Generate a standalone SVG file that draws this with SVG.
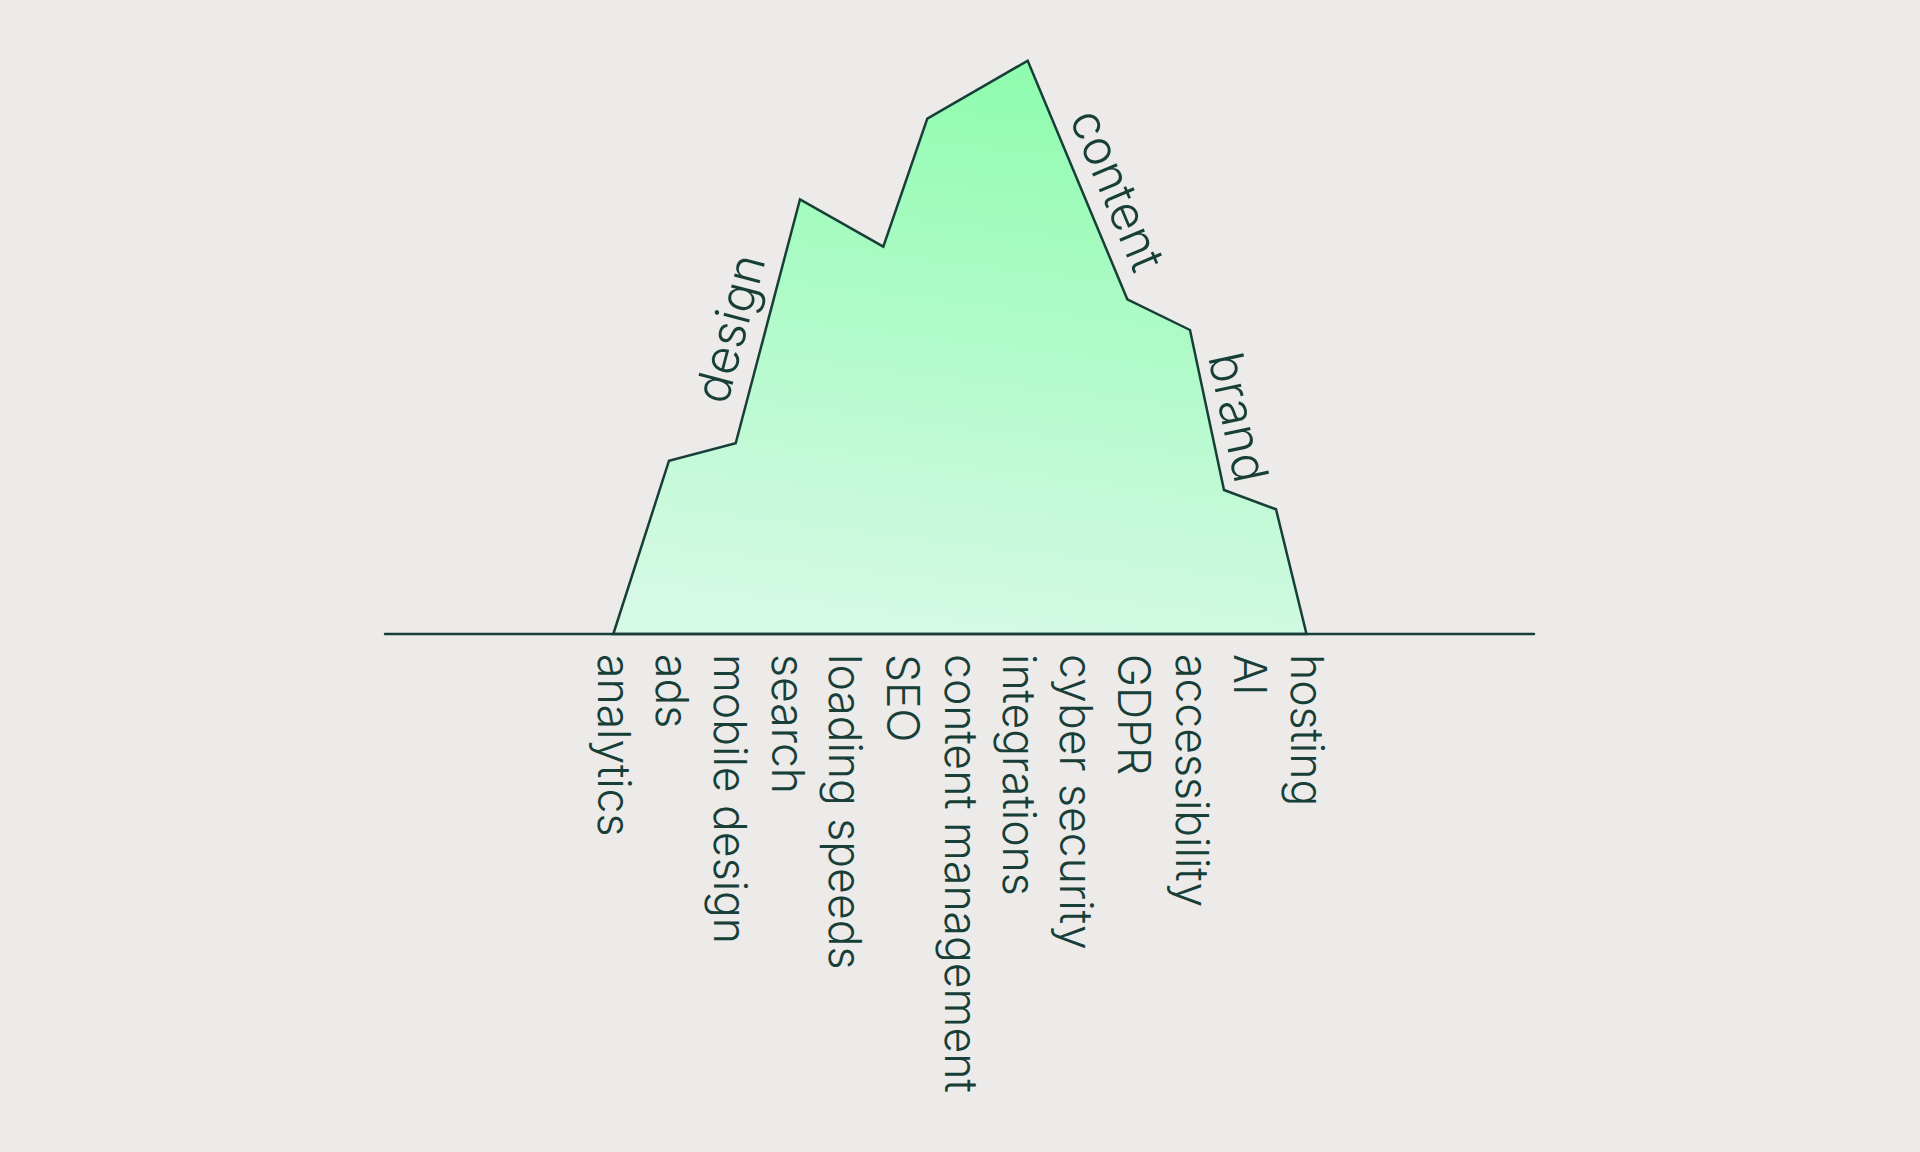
<svg xmlns="http://www.w3.org/2000/svg" width="1920" height="1152" viewBox="0 0 1920 1152">
<style>
  .lbl { font-family: "Inter Light", Inter, "Noto Sans", "Liberation Sans", sans-serif; font-weight: 300; fill: #173f38; }
  .bot { font-size: 44.5px; }
  .top { font-size: 48.5px; }
  .edge { fill: none; stroke: #173f38; stroke-width: 2.5; stroke-linecap: round; }
</style>
<defs>
  <linearGradient id="ice" gradientUnits="userSpaceOnUse" x1="1030" y1="60" x2="960" y2="634">
    <stop offset="0" stop-color="#8efcae"/>
    <stop offset="1" stop-color="#d5f9e5"/>
  </linearGradient>
</defs>
<rect x="0" y="0" width="1920" height="1152" fill="#edebe9"/>
<g id="iceberg">
  <polygon points="613.3,634 669,460.7 735.7,443.3 800,199.3 883.3,246.7 927.3,118.7 1027.7,60.7 1127.3,299.3 1190,330 1224,490 1276,509.3 1306.5,634" fill="url(#ice)" stroke="#173f38" stroke-width="2.5" stroke-linejoin="miter"/>
</g>
<g id="waterline">
  <line x1="385" y1="634" x2="1534" y2="634" class="edge"/>
</g>
<g id="top-labels">
  <text class="lbl top" transform="translate(727,406) rotate(-75.2)">design</text>
  <text class="lbl top" transform="translate(1069,118.2) rotate(67.34)">content</text>
  <text class="lbl top" transform="translate(1208,356.8) rotate(78)">brand</text>
</g>
<g id="bottom-labels">
  <text class="lbl bot" transform="translate(598.3,654) rotate(90)">analytics</text>
  <text class="lbl bot" transform="translate(656,654) rotate(90)">ads</text>
  <text class="lbl bot" transform="translate(713.8,654) rotate(90)">mobile design</text>
  <text class="lbl bot" transform="translate(771.5,654) rotate(90)">search</text>
  <text class="lbl bot" transform="translate(829.3,654) rotate(90)">loading speeds</text>
  <text class="lbl bot" transform="translate(887,654) rotate(90)">SEO</text>
  <text class="lbl bot" transform="translate(944.8,654) rotate(90)">content management</text>
  <text class="lbl bot" transform="translate(1002.5,654) rotate(90)">integrations</text>
  <text class="lbl bot" transform="translate(1060.3,654) rotate(90)">cyber security</text>
  <text class="lbl bot" transform="translate(1118,654) rotate(90)">GDPR</text>
  <text class="lbl bot" transform="translate(1175.8,654) rotate(90)">accessibility</text>
  <text class="lbl bot" transform="translate(1233.5,654) rotate(90)">AI</text>
  <text class="lbl bot" transform="translate(1291.3,654) rotate(90)">hosting</text>
</g>
</svg>
